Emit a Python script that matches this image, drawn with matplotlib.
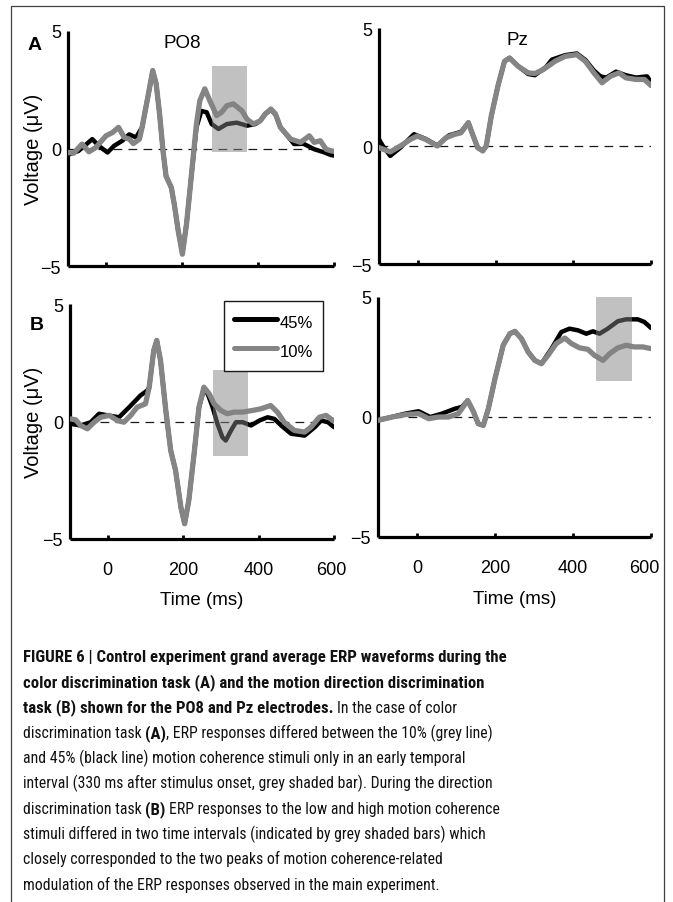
import matplotlib

matplotlib.use("Agg")

import matplotlib.pyplot as plt
import matplotlib.transforms as mtransforms
from matplotlib import font_manager
from matplotlib.font_manager import FontProperties
from matplotlib.patches import Rectangle


# ---- data (time in ms, voltage in uV) ----

# A, PO8
a_po8_t10 = [-100, -85, -63, -45, -27, 0, 17, 33, 48, 61, 72, 88, 95, 110, 123, 132,
             141, 150, 158, 172, 180, 190, 201, 212, 225, 238, 247, 260, 273, 291, 304, 318, 335,
             358, 371, 388, 406, 419, 434, 446, 459, 486, 512, 535, 548, 564, 579, 592, 600]
a_po8_v10 = [-0.17, -0.2, 0.19, -0.14, 0.04, 0.54, 0.68, 0.9, 0.47, 0.4, 0.21, 0.4, 0.9, 2.18,
             3.32, 2.75, 1.47, -0.1, -1.17, -1.67, -2.4, -3.5, -4.5, -3.2, -1.1, 1.04, 2.04,
             2.54, 2.04, 1.4, 1.54, 1.82, 1.9, 1.6, 1.25, 1.04, 1.18, 1.47, 1.68, 1.47, 0.9,
             0.4, 0.26, 0.54, 0.26, 0.33, -0.03, -0.1, -0.12]
a_po8_t45 = [-100, -72, -36, -19, 4, 21, 43, 61, 79, 95, 110, 123, 132, 141, 150, 158, 172,
             180, 190, 201, 212, 225, 238, 251, 265, 278, 296, 318, 344, 371, 393, 406, 419,
             434, 446, 459, 495, 520, 548, 575, 592, 600]
a_po8_v45 = [-0.27, -0.1, 0.4, 0.11, -0.17, 0.11, 0.33, 0.6, 0.47, 0.9, 2.18, 3.3, 2.75, 1.47,
             -0.1, -1.17, -1.67, -2.4, -3.5, -4.45, -3.2, -1.1, 0.9, 1.6, 1.54, 1.04, 0.83,
             1.04, 1.1, 0.97, 1.04, 1.18, 1.47, 1.65, 1.45, 0.9, 0.19, 0.2, -0.03, -0.17,
             -0.28, -0.3]

# A, Pz
a_pz_t10 = [-100, -71, -45, -19, -2, 20, 50, 72, 94, 111, 130, 141, 154, 167, 176, 189, 206,
            223, 236, 258, 284, 301, 323, 353, 379, 409, 431, 453, 474, 496, 518, 535, 561,
            583, 600]
a_pz_v10 = [-0.07, -0.25, 0, 0.28, 0.42, 0.28, 0, 0.35, 0.49, 0.56, 0.99, 0.49, -0.07, -0.21,
            0, 1.27, 2.54, 3.59, 3.73, 3.38, 3.1, 3.07, 3.24, 3.59, 3.8, 3.87, 3.59, 3.1, 2.68,
            2.96, 3.1, 2.89, 2.82, 2.82, 2.56]
a_pz_t45 = [-100, -90, -71, -45, -10, 20, 50, 80, 111, 130, 141, 154, 167, 176, 189, 206, 223,
            236, 258, 284, 301, 330, 345, 379, 409, 431, 453, 470, 485, 510, 535, 561, 590, 600]
a_pz_v45 = [0.28, 0.0, -0.42, -0.07, 0.5, 0.3, 0.02, 0.45, 0.6, 0.99, 0.49, -0.07, -0.2, 0,
            1.27, 2.54, 3.59, 3.73, 3.38, 3.05, 3.0, 3.35, 3.66, 3.85, 3.92, 3.65, 3.2, 2.95,
            2.9, 3.15, 3.0, 2.9, 2.95, 2.7]

# B, PO8
b_po8_t10 = [-98, -85, -72, -54, -36, -19, 4, 26, 43, 61, 78, 100, 110, 122, 130, 140, 154,
             167, 180, 194, 204, 215, 229, 242, 255, 269, 282, 300, 317, 335, 357, 384, 406,
             432, 450, 468, 495, 522, 539, 561, 579, 597, 600]
b_po8_v10 = [0.11, 0.07, -0.17, -0.31, -0.03, 0.18, 0.26, 0.04, -0.03, 0.26, 0.61, 0.75, 1.46,
             3.02, 3.45, 2.6, 0.47, -1.23, -2.09, -3.65, -4.35, -3.36, -1.38, 0.61, 1.46, 1.18,
             0.75, 0.47, 0.33, 0.4, 0.4, 0.47, 0.54, 0.68, 0.4, -0.03, -0.38, -0.45, -0.24,
             0.18, 0.26, 0.04, 0.05]
b_po8_t45 = [-98, -72, -45, -23, 0, 30, 57, 87, 105, 110, 122, 130, 140, 154, 167, 180, 194,
             204, 215, 229, 242, 255, 265, 278, 291, 304, 313, 327, 340, 358, 380, 402, 424,
             442, 460, 486, 522, 549, 566, 584, 600]
b_po8_v45 = [-0.1, -0.17, -0.03, 0.33, 0.26, 0.18, 0.61, 1.11, 1.32, 1.46, 3.02, 3.45, 2.6,
             0.47, -1.23, -2.09, -3.65, -4.35, -3.36, -1.38, 0.61, 1.35, 1.18, 0.61, -0.1,
             -0.67, -0.81, -0.38, -0.03, -0.03, -0.17, 0.04, 0.18, 0.11, -0.17, -0.52, -0.6,
             -0.24, 0.04, -0.03, -0.24]

# B, Pz
b_pz_t10 = [-100, -64, -30, 4, 30, 55, 81, 106, 130, 145, 157, 170, 183, 200, 221, 238, 251,
            268, 285, 302, 319, 336, 357, 379, 396, 417, 438, 455, 477, 494, 515, 536, 557,
            579, 600]
b_pz_v10 = [-0.14, 0, 0.1, 0.14, -0.07, 0, 0, 0.14, 0.69, 0.21, -0.28, -0.35, 0.35, 1.6, 2.99,
            3.47, 3.57, 3.26, 2.71, 2.36, 2.22, 2.57, 3.06, 3.29, 3.06, 2.88, 2.82, 2.57, 2.36,
            2.64, 2.88, 2.99, 2.92, 2.92, 2.85]
b_pz_t45 = [-100, -30, 4, 34, 64, 98, 115, 130, 145, 157, 170, 183, 200, 221, 238, 251, 268,
            285, 302, 319, 345, 370, 391, 413, 434, 451, 468, 489, 515, 536, 566, 583, 600]
b_pz_v45 = [-0.14, 0.14, 0.24, 0, 0.14, 0.35, 0.42, 0.69, 0.21, -0.28, -0.35, 0.35, 1.6, 2.99,
            3.47, 3.57, 3.26, 2.71, 2.36, 2.22, 2.85, 3.54, 3.68, 3.61, 3.47, 3.57, 3.47, 3.68,
            3.99, 4.07, 4.07, 3.96, 3.71]

# shaded intervals: (t_start, t_end, v_low, v_high)
a_po8_shade = [(278, 372, -0.15, 3.5)]
a_pz_shade = []
b_po8_shade = [(278, 372, -1.45, 2.2)]
b_pz_shade = [(460, 552, 1.5, 5.0)]

x_ticks = [0, 200, 400, 600]
y_ticks = [-5, 0, 5]
series_labels = ["45%", "10%"]

caption_lines = [
    [("FIGURE 6 | Control experiment grand average ERP waveforms during the", True)],
    [("color discrimination task (A) and the motion direction discrimination", True)],
    [("task (B) shown for the PO8 and Pz electrodes.", True), (" In the case of color", False)],
    [("discrimination task ", False), ("(A)", True),
     (", ERP responses differed between the 10% (grey line)", False)],
    [("and 45% (black line) motion coherence stimuli only in an early temporal", False)],
    [("interval (330 ms after stimulus onset, grey shaded bar). During the direction", False)],
    [("discrimination task ", False), ("(B)", True),
     (" ERP responses to the low and high motion coherence", False)],
    [("stimuli differed in two time intervals (indicated by grey shaded bars) which", False)],
    [("closely corresponded to the two peaks of motion coherence-related", False)],
    [("modulation of the ERP responses observed in the main experiment.", False)],
]


# ---- figure ----

W, H = 673, 903
plt.rcParams["font.family"] = ["Liberation Sans", "DejaVu Sans"]

fig = plt.figure(figsize=(W / 100, H / 100), dpi=100)

BLACK = "black"
GREY = "#858585"
SHADE = "#828282"


def px_axes(x0, y0, x1, y1):
    return fig.add_axes([x0 / W, 1 - y1 / H, (x1 - x0) / W, (y1 - y0) / H])


def draw_panel(ax, t45, v45, t10, v10, shades, xlabels, ylabel, title, last_shift=0):
    ax.axhline(0, color="0.1", lw=0.9, dashes=(7, 5), zorder=2)
    ax.plot(t45, v45, color=BLACK, lw=3.2, zorder=3,
            solid_joinstyle="round", solid_capstyle="round", label=series_labels[0])
    ax.plot(t10, v10, color=GREY, lw=3.8, zorder=4,
            solid_joinstyle="round", solid_capstyle="round", label=series_labels[1])
    for t0, t1, v0, v1 in shades:
        ax.add_patch(Rectangle((t0, v0), t1 - t0, v1 - v0,
                               facecolor=SHADE, alpha=0.49, lw=0, zorder=5))

    ax.set_xlim(-100, 600)
    ax.set_ylim(-5, 5)
    for side in ["top", "right"]:
        ax.spines[side].set_visible(False)
    for side in ["left", "bottom"]:
        ax.spines[side].set_linewidth(2.3)
        ax.spines[side].set_capstyle("butt")

    ax.set_xticks(x_ticks)
    ax.set_yticks(y_ticks)
    ax.set_yticklabels(["\u22125", "0", "5"])
    ax.tick_params(axis="x", direction="in", length=3, width=2, pad=16, labelsize=13)
    ax.tick_params(axis="y", length=0, pad=5, labelsize=13)
    if xlabels:
        ax.set_xlabel("Time (ms)", fontsize=13.5)
        ax.xaxis.set_label_coords(0.5, -0.222)
        # the last label sits a little left of its tick in the original
        lab = ax.get_xticklabels()[-1]
        lab.set_transform(lab.get_transform() + mtransforms.ScaledTranslation(
            -last_shift / 100, 0, fig.dpi_scale_trans))
    else:
        ax.set_xticklabels([])
    if ylabel:
        ax.set_ylabel("Voltage (\u03bcV)", fontsize=14.5)
        ax.yaxis.set_label_coords(-0.094, 0.5)
    ax.text(0.43 if title == "PO8" else 0.51, 0.95, title, transform=ax.transAxes,
            ha="center", va="center", fontsize=13.5)


ax_a1 = px_axes(68, 32, 334, 267)
ax_a2 = px_axes(379, 29, 651, 265)
ax_b1 = px_axes(70, 305, 334, 540)
ax_b2 = px_axes(378, 298, 651, 538)

draw_panel(ax_a1, a_po8_t45, a_po8_v45, a_po8_t10, a_po8_v10, a_po8_shade, False, True, "PO8")
draw_panel(ax_a2, a_pz_t45, a_pz_v45, a_pz_t10, a_pz_v10, a_pz_shade, False, False, "Pz")
draw_panel(ax_b1, b_po8_t45, b_po8_v45, b_po8_t10, b_po8_v10, b_po8_shade, True, True, "",
           last_shift=3)
draw_panel(ax_b2, b_pz_t45, b_pz_v45, b_pz_t10, b_pz_v10, b_pz_shade, True, False, "",
           last_shift=7)
ax_b1.yaxis.set_label_coords(-0.102, 0.5)

# panel letters
fig.text(35 / W, 1 - 46 / H, "A", fontsize=14, fontweight="bold", ha="center", va="center")
fig.text(37 / W, 1 - 326 / H, "B", fontsize=14, fontweight="bold", ha="center", va="center")

# legend
handles, labels = ax_b1.get_legend_handles_labels()
leg = fig.legend(handles, labels, loc="upper left",
                 bbox_to_anchor=(224 / W, 1 - 302 / H), borderaxespad=0,
                 fontsize=12, handlelength=2.6, handleheight=1.5, handletextpad=0.15,
                 labelspacing=0.55, borderpad=0.6, fancybox=False,
                 framealpha=1, edgecolor="0.1")
leg.get_frame().set_linewidth(1.0)
for line in leg.get_lines():
    line.set_linewidth(3.6)

# outer frame
fig.patches.append(Rectangle((11.5 / W, -0.01), (664 - 11.5) / W, 1.01 - 7 / H,
                             transform=fig.transFigure, fill=False,
                             edgecolor="0.25", lw=0.9))

# ---- caption ----
# the journal uses a condensed face; take one if the system has it


def pick_condensed():
    prefs = ["Roboto Condensed", "Liberation Sans Narrow", "Open Sans Condensed",
             "Noto Sans Condensed", "DejaVu Sans"]
    found = {}
    for f in font_manager.fontManager.ttflist:
        narrow = ("Condensed" in f.name or "Narrow" in f.name
                  or f.stretch in ("condensed", "semi-condensed", 600, 700))
        if not narrow or f.style != "normal":
            continue
        w = f.weight if isinstance(f.weight, int) else (700 if f.weight == "bold" else 400)
        slot = "bold" if w >= 600 else ("regular" if w in (400, 500) else None)
        if slot:
            found.setdefault(f.name, {}).setdefault(slot, f.fname)
    for name in prefs:
        d = found.get(name, {})
        if "regular" in d and "bold" in d:
            return FontProperties(fname=d["regular"]), FontProperties(fname=d["bold"])
    return (FontProperties(family="Liberation Sans"),
            FontProperties(family="Liberation Sans", weight="bold"))


cap_reg, cap_bold = pick_condensed()
renderer = fig.canvas.get_renderer()


def text_w(s, bold, size):
    fp = (cap_bold if bold else cap_reg).copy()
    fp.set_size(size)
    t = fig.text(0, 0, s, fontproperties=fp)
    w = t.get_window_extent(renderer).width
    t.remove()
    return w


def advance(s, bold, size):
    return text_w("|" + s + "|", bold, size) - text_w("||", bold, size)


# sizes fitted to the printed line lengths (bold line 1: 480 px, regular line 5: 439 px)
size_bold = 10 * 480 / advance(caption_lines[0][0][0], True, 10)
size_reg = 10 * 439 / advance(caption_lines[4][0][0], False, 10)

base_y = 662
for i, segs in enumerate(caption_lines):
    x = 23
    y = base_y + i * 25.3
    for s, bold in segs:
        size = size_bold if bold else size_reg
        lead = len(s) - len(s.lstrip())
        x_draw = x + (advance(s[:lead], bold, size) if lead else 0)
        fp = (cap_bold if bold else cap_reg).copy()
        fp.set_size(size)
        fig.text(x_draw / W, 1 - y / H, s.strip(), fontproperties=fp,
                 ha="left", va="baseline", color="#111111")
        x += advance(s, bold, size)

fig.savefig("out.png", dpi=100)
